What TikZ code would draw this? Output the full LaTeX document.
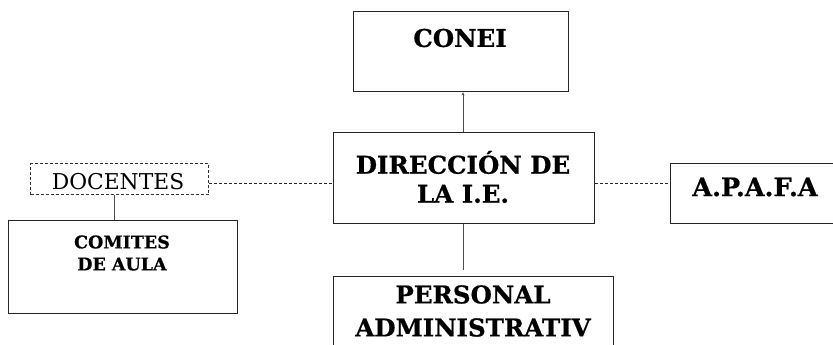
\documentclass[tikz,border=0pt]{standalone}
\usepackage{fontspec}
\setmainfont{DejaVu Serif}[BoldFeatures={FakeBold=0.6}]
\usetikzlibrary{arrows.meta}
\begin{document}
\begin{tikzpicture}[x=1pt,y=-1pt,
  box/.style={draw=black!85,line width=1.4pt,inner sep=0pt,anchor=north west},
  dbox/.style={draw=black!80,line width=1pt,dashed,dash pattern=on 3pt off 2pt,inner sep=0pt,anchor=north west},
  lbl/.style={font=\bfseries,align=center,inner sep=0pt},
  conn/.style={draw=black!70,line width=0.9pt},
  dconn/.style={draw=black!85,line width=0.9pt,dash pattern=on 3pt off 2pt}]
\useasboundingbox (0,0) rectangle (833,345);
\fill[white] (0,0) rectangle (833,345);
% boxes
\node[box,minimum width=215pt,minimum height=80pt] (conei) at (353,11) {};
\node[box,minimum width=261pt,minimum height=91pt] (dir) at (333,132) {};
\node[box,minimum width=280pt,minimum height=110pt] (pers) at (333,276) {};
\node[box,minimum width=190pt,minimum height=60pt] (apafa) at (670,163) {};
\node[dbox,minimum width=178pt,minimum height=31pt] (doc) at (30,163) {};
\node[box,minimum width=229pt,minimum height=93pt] (com) at (8,220) {};
% labels
\node[lbl,font=\bfseries\fontsize{24.5}{29}\selectfont] (tconei) at (460,38) {CONEI};
\node[lbl,font=\bfseries\fontsize{24.5}{29}\selectfont] (tdir) at (463,177) {DIRECCIÓN DE\\LA I.E.};
\node[lbl,font=\bfseries\fontsize{24.5}{33}\selectfont] (tpers) at (473,311) {PERSONAL\\ADMINISTRATIV};
\node[lbl,font=\bfseries\fontsize{25.5}{29}\selectfont] (tapafa) at (755,187) {A.P.A.F.A};
\node[inner sep=0pt,font=\fontsize{21.8}{24}\selectfont] (tdoc) at (118,182) {DOCENTES};
\node[lbl,font=\bfseries\fontsize{17.5}{22}\selectfont] (tcom) at (122,253) {COMITES\\DE AULA};
% connectors
\draw[conn,-{Stealth[length=3pt,width=3pt]}] (dir.north -| 463,0) -- (conei.south -| 463,0);
\draw[conn] (dir.south -| 463,0) -- ([yshift=6pt]pers.north -| 463,0);
\draw[dconn] (doc.east |- 0,183) -- (dir.west |- 0,183);
\draw[dconn] (dir.east |- 0,183) -- (apafa.west |- 0,183);
\draw[conn] (doc.south -| 114,0) -- (com.north -| 114,0);
\end{tikzpicture}
\end{document}
